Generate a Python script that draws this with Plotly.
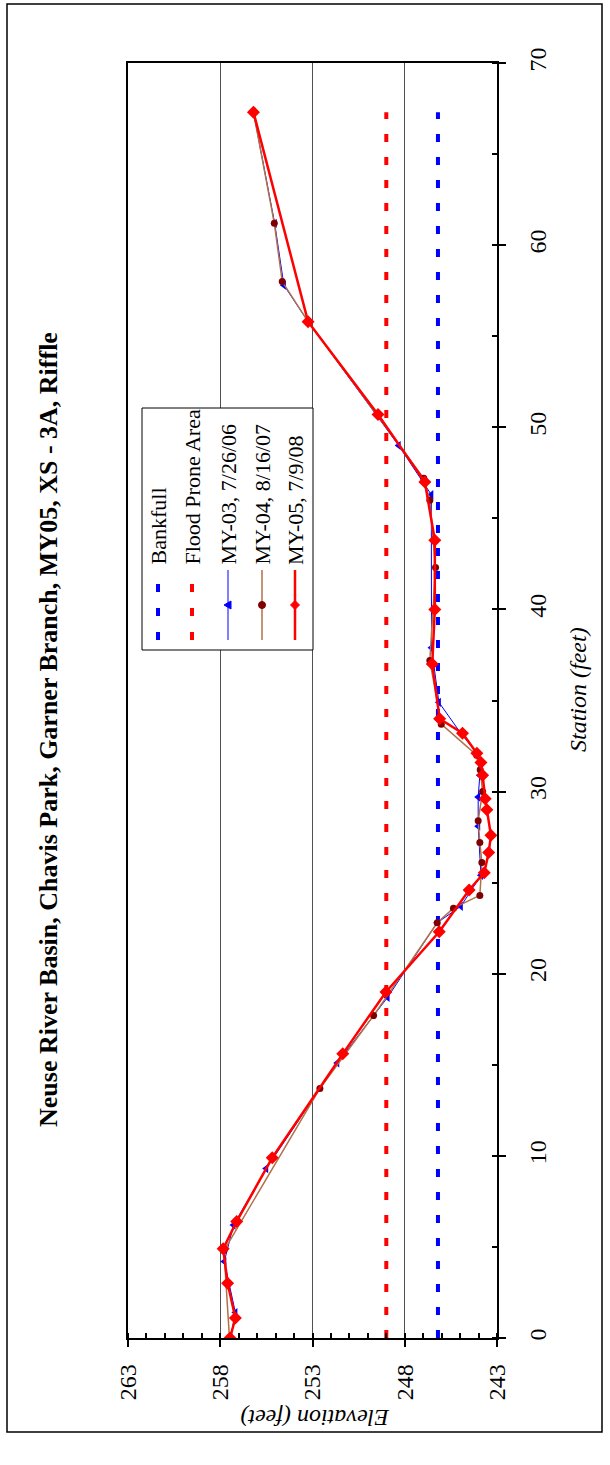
import plotly.graph_objects as go

# ---------------- data ----------------
my03_station = [0, 1.4, 4.2, 6.2, 9.3, 15.1, 18.7, 22.8, 23.7, 25.4, 28.1, 29.7, 30.9, 32.0,
                33.2, 34.9, 37.9, 46.3, 49.0, 55.8, 57.8, 61.2, 67.3]
my03_elev = [257.45, 257.18, 257.78, 257.28, 255.51, 251.66, 248.93, 246.24, 244.96, 243.87,
             244.02, 244.02, 243.93, 244.0, 244.96, 246.15, 246.55, 246.56, 248.33, 253.24,
             254.55, 255.05, 256.2]

my04_station = [0, 4.8, 13.7, 17.7, 22.8, 23.6, 24.3, 26.1, 27.2, 28.4, 30.0, 31.2, 32.0,
                33.7, 37.2, 42.3, 46.0, 47.2, 55.8, 58.0, 61.2, 67.3]
my04_elev = [257.5, 257.8, 252.6, 249.69, 246.24, 245.36, 243.93, 243.82, 243.93, 244.02,
             243.78, 243.91, 244.1, 246.02, 246.64, 246.33, 246.64, 246.97, 253.24, 254.64,
             255.07, 256.2]

my05_station = [0, 1.1, 3.0, 4.9, 6.4, 9.9, 15.6, 19.0, 22.3, 24.6, 25.55, 26.65, 27.6, 29.0,
                29.6, 30.9, 31.6, 32.1, 33.2, 34.0, 37.0, 40.0, 43.8, 47.0, 50.7, 55.8, 67.3]
my05_elev = [257.47, 257.18, 257.6, 257.84, 257.11, 255.18, 251.36, 249.02, 246.13, 244.51,
             243.69, 243.45, 243.33, 243.55, 243.64, 243.78, 243.87, 244.09, 244.87, 246.11,
             246.51, 246.37, 246.37, 246.91, 249.45, 253.24, 256.2]

bankfull_station = [0, 67.3]
bankfull_elev = [246.2, 246.2]
floodprone_station = [0, 67.3]
floodprone_elev = [249.0, 249.0]

elev_range = [263, 243]
station_range = [0, 70]

title_text = "Neuse River Basin, Chavis Park, Garner Branch, MY05, XS - 3A, Riffle"
legend_names = ["Bankfull", "Flood Prone Area", "MY-03, 7/26/06", "MY-04, 8/16/07", "MY-05, 7/9/08"]

# ---------------- layout geometry ----------------
W, H = 610, 1465
L, R, T, B = 128, 497, 63, 1338
FONT = "Liberation Serif"

def px(x):
    return (x - L) / (R - L)

def py(y):
    return (B - y) / (B - T)

BLUE = "#0000FF"
RED = "#FF0000"
BROWN = "#B07048"
MAROON = "#800000"

fig = go.Figure()
fig.add_trace(go.Scatter(x=bankfull_elev, y=bankfull_station, mode="lines",
                         line=dict(color=BLUE, width=4, dash="8px,15px"), name=legend_names[0]))
fig.add_trace(go.Scatter(x=floodprone_elev, y=floodprone_station, mode="lines",
                         line=dict(color=RED, width=4, dash="8px,15px"), name=legend_names[1]))
fig.add_trace(go.Scatter(x=my03_elev, y=my03_station, mode="lines+markers",
                         line=dict(color=BLUE, width=1),
                         marker=dict(symbol="triangle-left", size=8, color=BLUE),
                         name=legend_names[2]))
fig.add_trace(go.Scatter(x=my04_elev, y=my04_station, mode="lines+markers",
                         line=dict(color=BROWN, width=1.5),
                         marker=dict(symbol="circle", size=7, color=MAROON),
                         name=legend_names[3]))
fig.add_trace(go.Scatter(x=my05_elev, y=my05_station, mode="lines+markers",
                         line=dict(color=RED, width=2.5),
                         marker=dict(symbol="diamond", size=10, color=RED),
                         name=legend_names[4]))

shapes = []
annotations = []

# outer frame
shapes.append(dict(type="rect", xref="paper", yref="paper",
                   x0=px(7), x1=px(602), y0=py(4), y1=py(1432),
                   line=dict(color="black", width=1.5), layer="below"))

# legend box
lx0, lx1, ly0, ly1 = 142, 313, 408, 650
shapes.append(dict(type="rect", xref="paper", yref="paper",
                   x0=px(lx0), x1=px(lx1), y0=py(ly0), y1=py(ly1),
                   fillcolor="white", line=dict(color="black", width=1), layer="above"))

cols = [158, 192, 228, 262, 295]
sym_top, sym_bot, text_bot = 570, 640, 567
for cx, col in zip(cols[:2], [BLUE, RED]):
    shapes.append(dict(type="line", xref="paper", yref="paper",
                       x0=px(cx), x1=px(cx), y0=py(sym_bot), y1=py(sym_top),
                       line=dict(color=col, width=4, dash="8px,16px"), layer="above"))
for cx, col, wd in zip(cols[2:], [BLUE, BROWN, RED], [1, 1.5, 2.5]):
    shapes.append(dict(type="line", xref="paper", yref="paper",
                       x0=px(cx), x1=px(cx), y0=py(sym_bot), y1=py(sym_top),
                       line=dict(color=col, width=wd), layer="above"))
my = 605
c = cols[2]
shapes.append(dict(type="path", xref="paper", yref="paper",
                   path=f"M {px(c-4)},{py(my)} L {px(c+3)},{py(my-4)} L {px(c+3)},{py(my+4)} Z",
                   fillcolor=BLUE, line=dict(color=BLUE, width=1), layer="above"))
c = cols[3]
shapes.append(dict(type="circle", xref="paper", yref="paper",
                   x0=px(c-3.5), x1=px(c+3.5), y0=py(my+3.5), y1=py(my-3.5),
                   fillcolor=MAROON, line=dict(color=MAROON, width=1), layer="above"))
c = cols[4]
shapes.append(dict(type="path", xref="paper", yref="paper",
                   path=f"M {px(c-4.5)},{py(my)} L {px(c)},{py(my-4.5)} L {px(c+4.5)},{py(my)} L {px(c)},{py(my+4.5)} Z",
                   fillcolor=RED, line=dict(color=RED, width=1), layer="above"))

for cx, name in zip(cols, legend_names):
    annotations.append(dict(text=name, xref="paper", yref="paper", x=px(cx), y=py(text_bot),
                            xanchor="center", yanchor="bottom", textangle=-90, showarrow=False,
                            font=dict(family=FONT, size=22, color="black")))

annotations.append(dict(text="<b>" + title_text + "</b>", xref="paper", yref="paper",
                        x=px(48), y=py(730), xanchor="center", yanchor="middle", textangle=-90,
                        showarrow=False, font=dict(family=FONT, size=26, color="black")))
annotations.append(dict(text="<i>Station (feet)</i>", xref="paper", yref="paper",
                        x=px(578), y=py(690), xanchor="center", yanchor="middle", textangle=-90,
                        showarrow=False, font=dict(family=FONT, size=24, color="black")))
annotations.append(dict(text="<i>Elevation (feet)</i>", xref="paper", yref="paper",
                        x=px(315), y=py(1418), xanchor="center", yanchor="middle", textangle=180,
                        showarrow=False, font=dict(family=FONT, size=24, color="black")))

fig.update_layout(
    width=W, height=H,
    margin=dict(l=L, r=W - R, t=T, b=H - B, pad=0),
    paper_bgcolor="white", plot_bgcolor="white",
    showlegend=False,
    shapes=shapes, annotations=annotations,
    xaxis=dict(range=elev_range, tick0=243, dtick=5, showgrid=True, gridcolor="#505050", gridwidth=1,
               zeroline=False, showline=True, linecolor="black", linewidth=1.5, mirror=True,
               ticks="outside", ticklen=7, tickcolor="black", tickwidth=1.5,
               tickangle=-90, ticklabelstandoff=8,
               tickfont=dict(family=FONT, size=24, color="black"),
               minor=dict(dtick=1, ticks="inside", ticklen=5, tickcolor="black", showgrid=False)),
    yaxis=dict(range=station_range, dtick=10, side="right", showgrid=False, zeroline=False,
               showline=True, linecolor="black", linewidth=1.5, mirror=True,
               ticks="outside", ticklen=7, tickcolor="black", tickwidth=1.5,
               tickangle=-90, ticklabelstandoff=11,
               tickfont=dict(family=FONT, size=24, color="black"),
               minor=dict(dtick=5, ticks="inside", ticklen=5, tickcolor="black", showgrid=False)),
)

fig.write_html("out.html")
